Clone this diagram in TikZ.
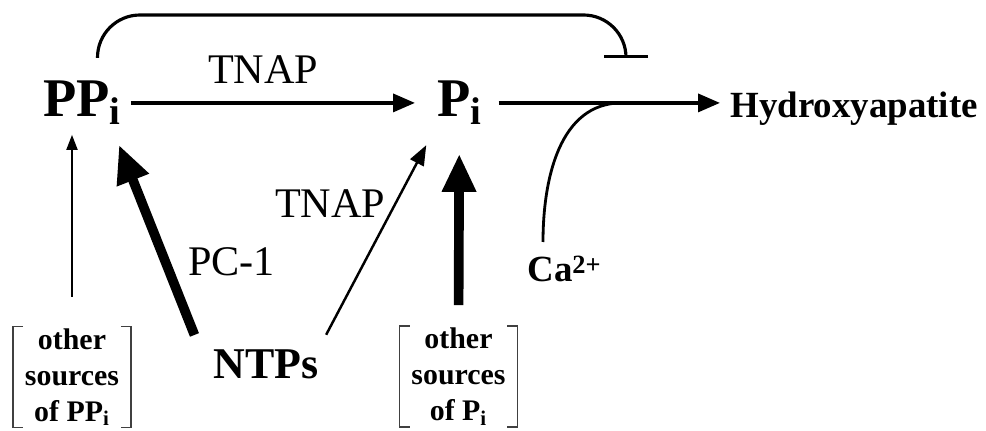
\documentclass[tikz,border=0pt]{standalone}
\usepackage{fontspec}
\setmainfont{Liberation Serif}
\usetikzlibrary{arrows.meta}

\begin{document}
\begin{tikzpicture}[
  grande/.style={font=\fontsize{31}{31}\selectfont\bfseries, inner sep=0pt, anchor=base west},
  texto/.style={font=\fontsize{21}{21}\selectfont\bfseries, inner sep=0pt, anchor=base west},
  etiqueta/.style={font=\fontsize{24}{24}\selectfont, inner sep=0pt},
  fuente/.style={font=\fontsize{17}{20.5}\selectfont\bfseries, align=center,
                 minimum width=2.34cm, minimum height=2cm, inner sep=0pt},
  fina/.style={-{Triangle[length=3mm, width=2.2mm]}, line width=1.1pt},
  media/.style={-{Triangle[length=4mm, width=3mm]}, line width=1.4pt},
  flecha/.style={-{Triangle[length=4.4mm, width=3.6mm]}, line width=2pt},
  gruesa/.style={-{Triangle[length=7.6mm, width=6.4mm]}, line width=5.5pt},
  inhibe/.style={-{Bar[width=8.8mm, line width=1.8pt]}, line width=1.8pt}
]
  \useasboundingbox (0,0) rectangle (19.72,8.6);
  \node[grande] (ppi) at (0.86,6.26) {PP\raisebox{-1.5mm}{\fontsize{22}{22}\selectfont i}};
  \node[grande] (pi) at (8.74,6.26) {P\raisebox{-1.5mm}{\fontsize{22}{22}\selectfont i}};
  \node[texto] (hap) at (14.6,6.24) {Hydroxyapatite};
  \node[texto] (ca) at (10.54,2.96) {Ca\raisebox{1.6mm}{\fontsize{15}{15}\selectfont 2+}};
  \node[font=\fontsize{25}{25}\selectfont\bfseries, inner sep=0pt, anchor=base west] (ntp) at (4.26,1.04) {NTPs};
  \node[fuente] (otrasPP) at (1.44,1.06) {other\\sources\\of PP\textsubscript{i}};
  \node[fuente] (otrasP) at (9.17,1.07) {other\\sources\\of P\textsubscript{i}};
  \coordinate (inh) at (12.52,7.44);
  \coordinate (cruce) at ([xshift=2.8cm]pi.east);

  \draw[flecha, shorten <=2mm, shorten >=4.4mm] (ppi.east) -- (ppi.east -| pi.west)
    node[etiqueta, pos=0.45, above=3.5mm] {TNAP};
  \draw[flecha, shorten <=3.4mm, shorten >=2mm] (pi.east) -- (pi.east -| hap.west);
  \draw[fina, shorten <=6mm, shorten >=2mm] (otrasPP.north) -- (otrasPP.north |- ppi.south);
  \draw[gruesa, shorten <=3mm, shorten >=4.3mm] ([xshift=-2.6mm]ntp.north west) -- ([xshift=-2mm]ppi.south east)
    node[etiqueta, pos=0.39, right=3.6mm] {PC-1};
  \draw[media, shorten <=3.2mm, shorten >=4.6mm] (ntp.north east) -- (pi.south west)
    node[etiqueta, pos=0.65, left=1.8mm] {TNAP};
  \draw[gruesa, shorten <=4.2mm, shorten >=5.8mm] (otrasP.north) -- (pi.south);
  \draw[line width=1.6pt] ([xshift=3.2mm, yshift=8mm]ca.base west) to[out=90, in=180] (cruce);
  \draw[inhibe, rounded corners=8.5mm] ([xshift=3.1mm, yshift=4.6mm]ppi.north) |- ([yshift=8.6mm]inh) -- (inh);

  \foreach \caja in {otrasPP, otrasP}
    \draw[line width=0.8pt, black!75]
      ([xshift=2mm]\caja.north west) -| (\caja.south west) -- ++(2mm,0)
      ([xshift=-2mm]\caja.north east) -| (\caja.south east) -- ++(-2mm,0);
\end{tikzpicture}
\end{document}
